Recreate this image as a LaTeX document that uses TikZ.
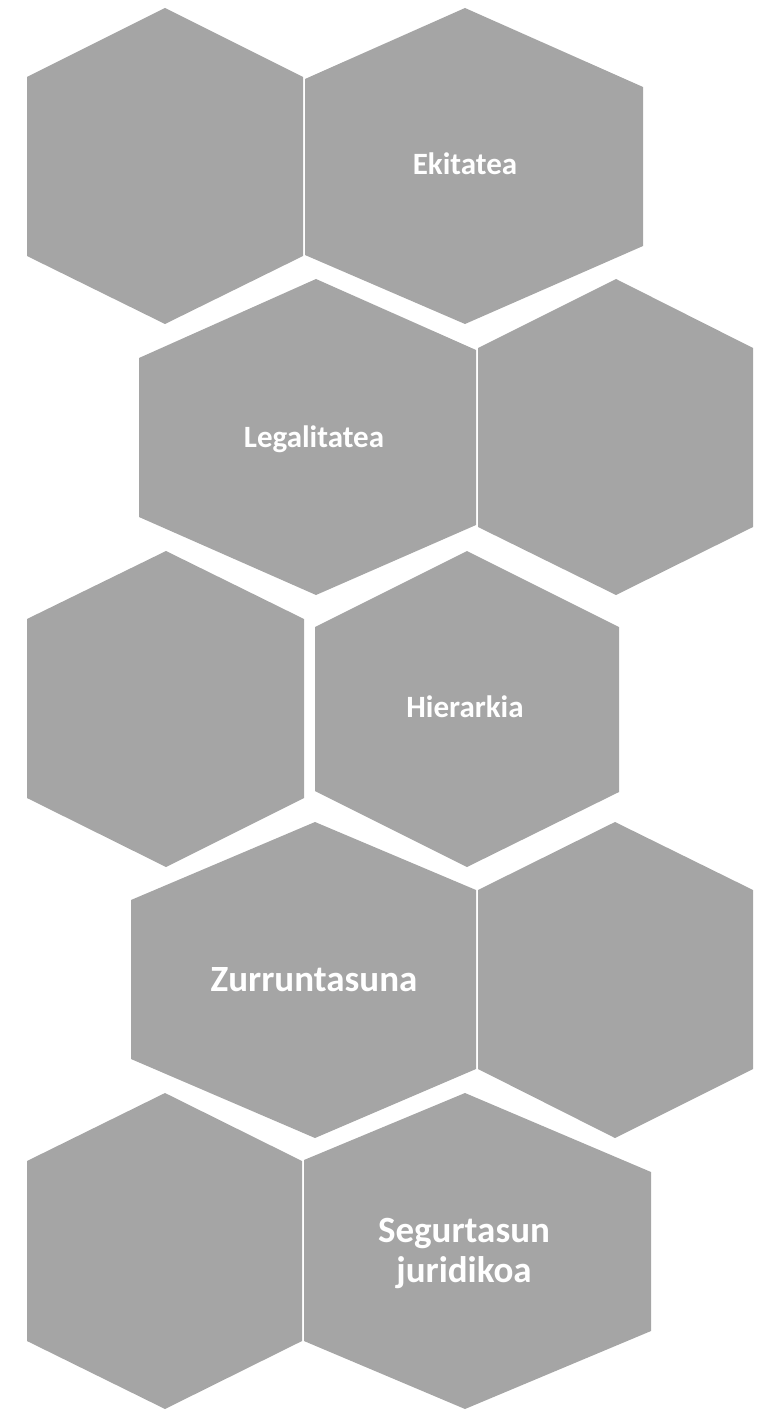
\documentclass[tikz,border=0pt]{standalone}
\usepackage{fontspec}
\setmainfont{Carlito}
\usepackage{xcolor}
\definecolor{hexgray}{HTML}{A5A5A5}

\begin{document}
\begin{tikzpicture}[
    x=1pt, y=-1pt,
    hexcell/.style={
        fill=hexgray
    },
    celltext/.style={
        text=white,
        anchor=base,
        align=center,
        inner sep=0pt,
        font=\bfseries\fontsize{31}{37}\selectfont
    },
    bigtext/.style={
        celltext,
        font=\bfseries\fontsize{37}{40}\selectfont
    }
]

\useasboundingbox (0,0) rectangle (770,1412);

% row 1
\fill[hexcell] (165,8) -- (303,77) -- (303,256) -- (165,324) -- (27,256) -- (27,77) -- cycle;
\fill[hexcell] (465,8) -- (643,87) -- (643,246) -- (465,324) -- (305,255) -- (305,79) -- cycle;

% row 2
\fill[hexcell] (316,279) -- (476,350) -- (476,525) -- (316,595) -- (139,517) -- (139,358) -- cycle;
\fill[hexcell] (616,279) -- (753,348) -- (753,527) -- (616,595) -- (478,527) -- (478,348) -- cycle;

% row 3
\fill[hexcell] (166,551) -- (304,619) -- (304,798) -- (166,867) -- (27,798) -- (27,619) -- cycle;
\fill[hexcell] (467,551) -- (619,627) -- (619,792) -- (467,867) -- (315,791) -- (315,627) -- cycle;

% row 4
\fill[hexcell] (315,822) -- (476,890) -- (476,1069) -- (315,1138) -- (131,1059) -- (131,900) -- cycle;
\fill[hexcell] (615,822) -- (753,890) -- (753,1069) -- (615,1138) -- (478,1069) -- (478,890) -- cycle;

% row 5
\fill[hexcell] (165,1093) -- (302,1161) -- (302,1341) -- (165,1409) -- (27,1341) -- (27,1161) -- cycle;
\fill[hexcell] (465,1093) -- (651,1172) -- (651,1331) -- (465,1409) -- (304,1341) -- (304,1160) -- cycle;

% texts
\node[celltext] (ekitatea) at (465,175) {Ekitatea};
\node[celltext] (legalitatea) at (314,447) {Legalitatea};
\node[celltext] (hierarkia) at (465,717) {Hierarkia};
\node[bigtext] (zurruntasuna) at (314,991) {Zurruntasuna};
\node[bigtext, anchor=center] (segurtasun) at (464,1253) {Segurtasun\\juridikoa};

\end{tikzpicture}
\end{document}
